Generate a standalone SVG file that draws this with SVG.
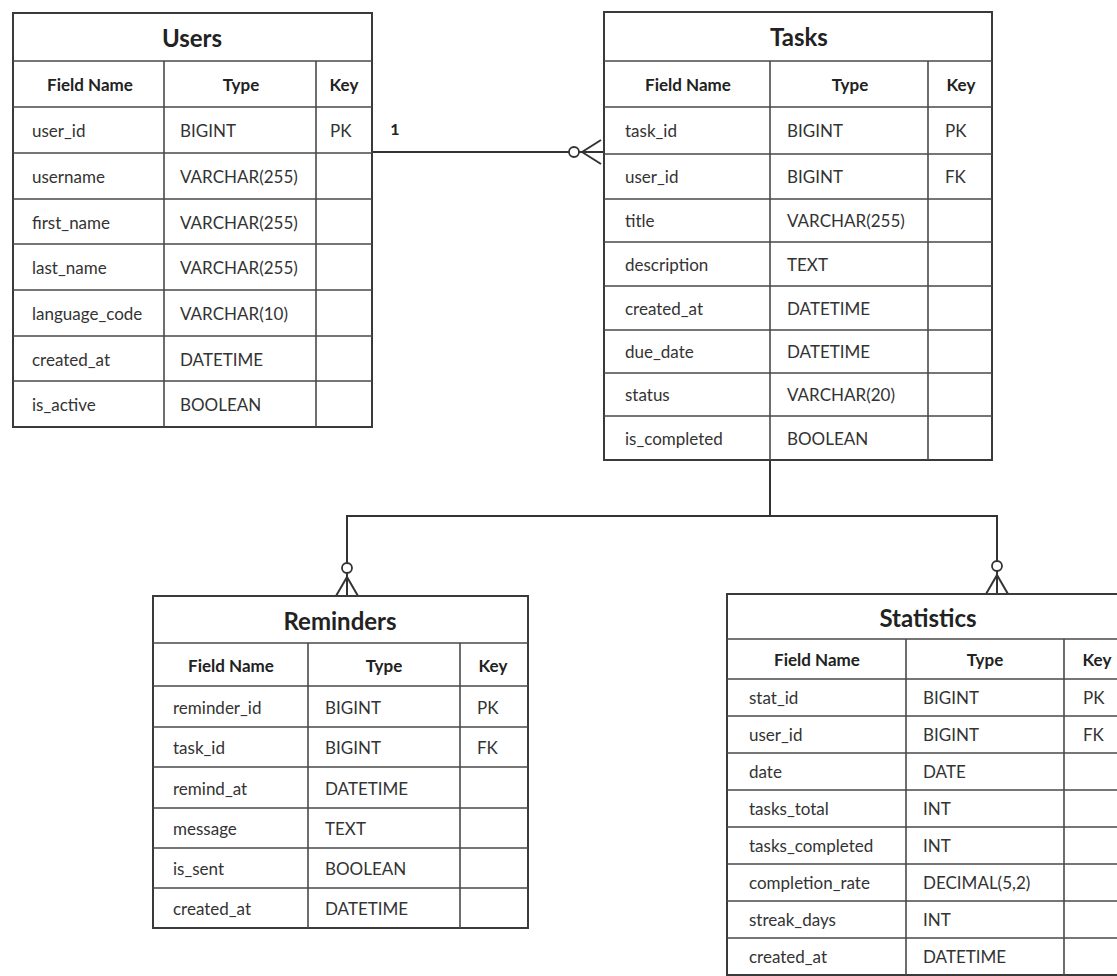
<svg xmlns="http://www.w3.org/2000/svg" width="1117" height="976" viewBox="0 0 1117 976">
<style>
.bg{fill:#ffffff}
.box{fill:#ffffff;stroke:#3a3a3a;stroke-width:2}
.ln{stroke:#4a4a4a;stroke-width:1.6;fill:none}
.ttl{font-family:Lato,"Noto Sans",sans-serif;font-size:24px;font-weight:bold;fill:#222;text-anchor:middle;dominant-baseline:central}
.hd{font-family:Lato,"Noto Sans",sans-serif;font-size:17px;font-weight:bold;fill:#222;text-anchor:middle;dominant-baseline:central}
.tx{font-family:Lato,"Noto Sans",sans-serif;font-size:17px;fill:#333;dominant-baseline:central}
.con{stroke:#333;stroke-width:2;fill:none}
.cir{stroke:#333;stroke-width:1.8;fill:#fff}
.lbl{font-family:Lato,"Noto Sans",sans-serif;font-size:16px;font-weight:bold;fill:#222;text-anchor:middle}
</style>
<rect class="bg" x="0" y="0" width="1117" height="976"/>

<g id="connectors">
  <line class="con" x1="372" y1="152" x2="604" y2="152"/>
  <circle class="cir" cx="574" cy="152" r="5"/>
  <line class="con" x1="582" y1="152" x2="601" y2="140"/>
  <line class="con" x1="582" y1="152" x2="601" y2="164"/>
  <text class="lbl" x="395" y="135">1</text>
  <polyline class="con" points="770,460 770,516"/>
  <polyline class="con" points="347,596 347,516 997,516 997,594"/>
  <circle class="cir" cx="347" cy="568" r="5"/>
  <line class="con" x1="347" y1="577" x2="336" y2="596"/>
  <line class="con" x1="347" y1="577" x2="358" y2="596"/>
  <circle class="cir" cx="997" cy="566" r="5"/>
  <line class="con" x1="997" y1="575" x2="986" y2="594"/>
  <line class="con" x1="997" y1="575" x2="1008" y2="594"/>
</g>

<g id="users">
  <rect class="box" x="13" y="13" width="359" height="414"/>
  <path class="ln" d="M13 61H372M13 107H372M13 153H372M13 199H372M13 244H372M13 290H372M13 336H372M13 381H372M164 61V427M316 61V427"/>
  <text class="ttl" x="192" y="37">Users</text>
  <text class="hd" x="90" y="84">Field Name</text>
  <text class="hd" x="241" y="84">Type</text>
  <text class="hd" x="344" y="84">Key</text>
  <text class="tx" x="32" y="130">user_id</text><text class="tx" x="180" y="130">BIGINT</text><text class="tx" x="330" y="130">PK</text>
  <text class="tx" x="32" y="176">username</text><text class="tx" x="180" y="176">VARCHAR(255)</text>
  <text class="tx" x="32" y="222">first_name</text><text class="tx" x="180" y="222">VARCHAR(255)</text>
  <text class="tx" x="32" y="267">last_name</text><text class="tx" x="180" y="267">VARCHAR(255)</text>
  <text class="tx" x="32" y="313">language_code</text><text class="tx" x="180" y="313">VARCHAR(10)</text>
  <text class="tx" x="32" y="359">created_at</text><text class="tx" x="180" y="359">DATETIME</text>
  <text class="tx" x="32" y="404">is_active</text><text class="tx" x="180" y="404">BOOLEAN</text>
</g>

<g id="tasks">
  <rect class="box" x="604" y="12" width="388" height="448"/>
  <path class="ln" d="M604 61H992M604 107H992M604 154H992M604 199H992M604 242H992M604 286H992M604 330H992M604 373H992M604 416H992M770 61V460M928 61V460"/>
  <text class="ttl" x="799" y="36">Tasks</text>
  <text class="hd" x="688" y="84">Field Name</text>
  <text class="hd" x="850" y="84">Type</text>
  <text class="hd" x="961" y="84">Key</text>
  <text class="tx" x="625" y="130">task_id</text><text class="tx" x="787" y="130">BIGINT</text><text class="tx" x="945" y="130">PK</text>
  <text class="tx" x="625" y="176">user_id</text><text class="tx" x="787" y="176">BIGINT</text><text class="tx" x="945" y="176">FK</text>
  <text class="tx" x="625" y="220">title</text><text class="tx" x="787" y="220">VARCHAR(255)</text>
  <text class="tx" x="625" y="264">description</text><text class="tx" x="787" y="264">TEXT</text>
  <text class="tx" x="625" y="308">created_at</text><text class="tx" x="787" y="308">DATETIME</text>
  <text class="tx" x="625" y="351">due_date</text><text class="tx" x="787" y="351">DATETIME</text>
  <text class="tx" x="625" y="394">status</text><text class="tx" x="787" y="394">VARCHAR(20)</text>
  <text class="tx" x="625" y="438">is_completed</text><text class="tx" x="787" y="438">BOOLEAN</text>
</g>

<g id="reminders">
  <rect class="box" x="153" y="596" width="375" height="332"/>
  <path class="ln" d="M153 643H528M153 686H528M153 727H528M153 767H528M153 808H528M153 848H528M153 888H528M308 643V928M460 643V928"/>
  <text class="ttl" x="340" y="620">Reminders</text>
  <text class="hd" x="231" y="665">Field Name</text>
  <text class="hd" x="384" y="665">Type</text>
  <text class="hd" x="493" y="665">Key</text>
  <text class="tx" x="173" y="707">reminder_id</text><text class="tx" x="325" y="707">BIGINT</text><text class="tx" x="477" y="707">PK</text>
  <text class="tx" x="173" y="747">task_id</text><text class="tx" x="325" y="747">BIGINT</text><text class="tx" x="477" y="747">FK</text>
  <text class="tx" x="173" y="788">remind_at</text><text class="tx" x="325" y="788">DATETIME</text>
  <text class="tx" x="173" y="828">message</text><text class="tx" x="325" y="828">TEXT</text>
  <text class="tx" x="173" y="868">is_sent</text><text class="tx" x="325" y="868">BOOLEAN</text>
  <text class="tx" x="173" y="908">created_at</text><text class="tx" x="325" y="908">DATETIME</text>
</g>

<g id="statistics">
  <rect class="box" x="727" y="594" width="403" height="381"/>
  <path class="ln" d="M727 639H1130M727 679H1130M727 716H1130M727 753H1130M727 790H1130M727 827H1130M727 864H1130M727 901H1130M727 938H1130M906 639V975M1064 639V975"/>
  <text class="ttl" x="928" y="617">Statistics</text>
  <text class="hd" x="817" y="659">Field Name</text>
  <text class="hd" x="985" y="659">Type</text>
  <text class="hd" x="1097" y="659">Key</text>
  <text class="tx" x="749" y="697">stat_id</text><text class="tx" x="923" y="697">BIGINT</text><text class="tx" x="1083" y="697">PK</text>
  <text class="tx" x="749" y="734">user_id</text><text class="tx" x="923" y="734">BIGINT</text><text class="tx" x="1083" y="734">FK</text>
  <text class="tx" x="749" y="771">date</text><text class="tx" x="923" y="771">DATE</text>
  <text class="tx" x="749" y="808">tasks_total</text><text class="tx" x="923" y="808">INT</text>
  <text class="tx" x="749" y="845">tasks_completed</text><text class="tx" x="923" y="845">INT</text>
  <text class="tx" x="749" y="882">completion_rate</text><text class="tx" x="923" y="882">DECIMAL(5,2)</text>
  <text class="tx" x="749" y="919">streak_days</text><text class="tx" x="923" y="919">INT</text>
  <text class="tx" x="749" y="956">created_at</text><text class="tx" x="923" y="956">DATETIME</text>
</g>
</svg>
